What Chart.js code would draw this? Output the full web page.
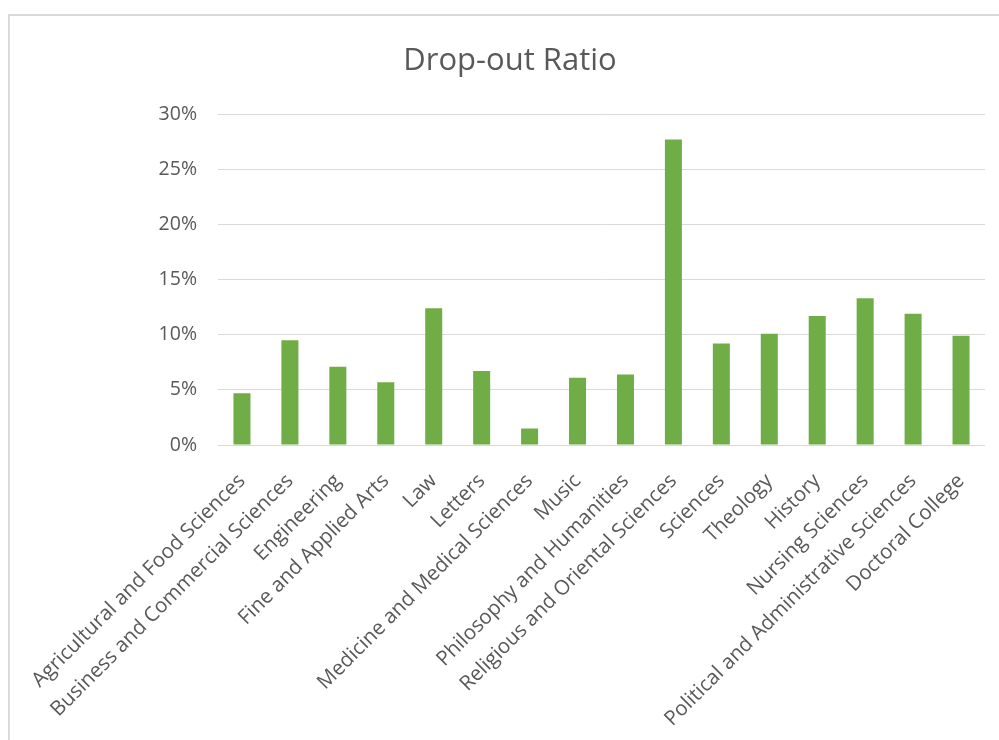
<!DOCTYPE html>
<html>
<head>
<meta charset="utf-8">
<script src="https://cdn.jsdelivr.net/npm/chart.js@4.4.1/dist/chart.umd.min.js"></script>
<style>
  html, body { margin: 0; padding: 0; background: #ffffff; }
  #wrap { position: relative; width: 999px; height: 740px; overflow: hidden; }
  #frame { position: absolute; left: 8px; top: 14px; width: 1200px; height: 1000px;
           border-top: 2px solid #d9d9d9; border-left: 2px solid #d9d9d9; box-sizing: border-box; }
  canvas { position: absolute; left: 0; top: 0; }
</style>
</head>
<body>
<div id="wrap">
  <div id="frame"></div>
  <canvas id="c" width="999" height="740"></canvas>
</div>
<script>
const categories = [
  "Agricultural and Food Sciences",
  "Business and Commercial Sciences",
  "Engineering",
  "Fine and Applied Arts",
  "Law",
  "Letters",
  "Medicine and Medical Sciences",
  "Music",
  "Philosophy and Humanities",
  "Religious and Oriental Sciences",
  "Sciences",
  "Theology",
  "History",
  "Nursing Sciences",
  "Political and Administrative Sciences",
  "Doctoral College"
];
const dropOutRatio = [4.7, 9.5, 7.1, 5.7, 12.4, 6.7, 1.5, 6.1, 6.4, 27.7, 9.2, 10.1, 11.7, 13.3, 11.9, 9.9];
const yTicks = [0, 5, 10, 15, 20, 25, 30];
const chartTitle = "Drop-out Ratio";

const textColor = "#595959";
const fontFamily = "'Open Sans', 'Noto Sans', sans-serif";

new Chart(document.getElementById("c"), {
  type: "bar",
  data: {
    labels: categories,
    datasets: [{
      label: chartTitle,
      data: dropOutRatio,
      backgroundColor: "#70AD47",
      borderWidth: 0,
      categoryPercentage: 1.0,
      barPercentage: 0.355
    }]
  },
  options: {
    responsive: false,
    animation: false,
    devicePixelRatio: 1,
    layout: { padding: { top: 0, left: 35, right: 14, bottom: 0 } },
    plugins: {
      legend: { display: false },
      tooltip: { enabled: false },
      title: {
        display: true,
        text: chartTitle,
        color: textColor,
        font: { family: fontFamily, size: 31, weight: "normal", lineHeight: 1.2 },
        padding: { top: 43, bottom: 34 }
      }
    },
    scales: {
      x: {
        grid: { display: false, drawTicks: false },
        border: { display: false },
        ticks: {
          color: textColor,
          font: { family: fontFamily, size: 20.5 },
          maxRotation: 45,
          minRotation: 45,
          autoSkip: false,
          padding: 24
        },
        afterFit: (s) => { s.height = 295; s.paddingLeft = 0; s.paddingRight = 0; }
      },
      y: {
        min: 0,
        max: 30,
        afterBuildTicks: (s) => { s.ticks = yTicks.map(v => ({ value: v })); },
        grid: { color: "#d9d9d9", lineWidth: 1, drawTicks: false },
        border: { display: false },
        ticks: {
          color: textColor,
          font: { family: fontFamily, size: 19.5 },
          padding: 21,
          callback: (v) => v + "%"
        },
        afterFit: (s) => { s.width = 183; }
      }
    }
  }
});
</script>
</body>
</html>
